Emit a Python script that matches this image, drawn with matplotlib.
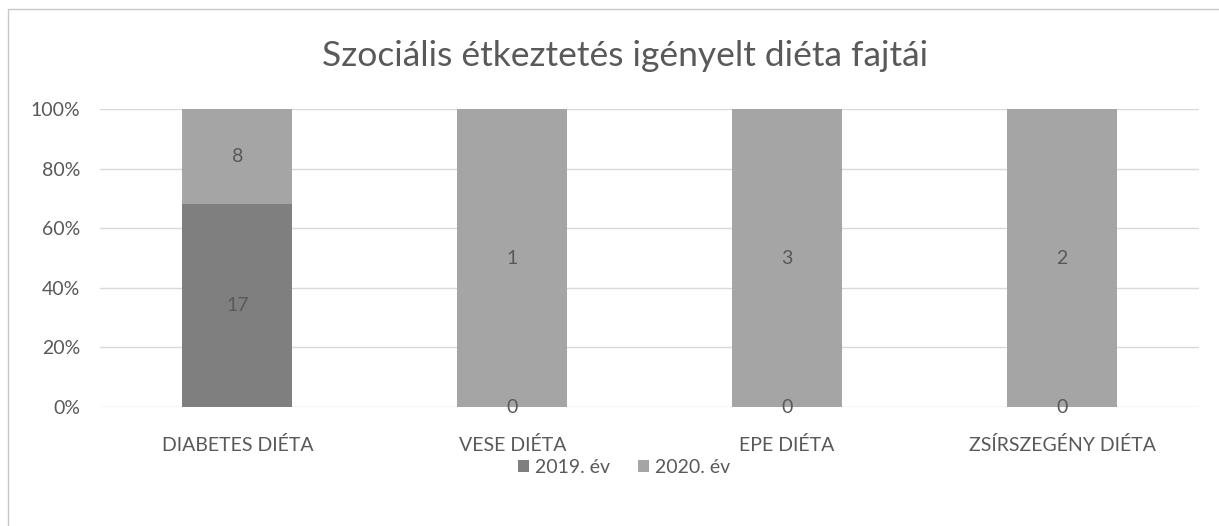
import numpy as np
import matplotlib
matplotlib.use("Agg")
import matplotlib.pyplot as plt
from matplotlib.patches import Rectangle

# Adatok
categories = ["DIABETES DIÉTA", "VESE DIÉTA", "EPE DIÉTA", "ZSÍRSZEGÉNY DIÉTA"]
series_names = ["2019. év", "2020. év"]
values_2019 = [17, 0, 0, 0]
values_2020 = [8, 1, 3, 2]
y_ticks = [0, 20, 40, 60, 80, 100]

plt.rcParams['font.family'] = ['Lato', 'DejaVu Sans']

fig = plt.figure(figsize=(12.19, 5.26), dpi=100)
ax = fig.add_axes([0.082, 0.2262, 0.902, 0.5666])

v19 = np.array(values_2019, dtype=float)
v20 = np.array(values_2020, dtype=float)
total = v19 + v20
p19 = v19 / total * 100
p20 = v20 / total * 100

x = np.arange(len(categories))
b1 = ax.bar(x, p19, width=0.4, color='#7f7f7f', label=series_names[0], zorder=2)
b2 = ax.bar(x, p20, width=0.4, bottom=p19, color='#a5a5a5', label=series_names[1], zorder=2)

# Címkék a szegmensek közepén
for i in range(len(x)):
    ax.text(x[i], p19[i] / 2, str(values_2019[i]), ha='center',
            va='center', fontsize=14, color='#595959', zorder=3)
    ax.text(x[i], p19[i] + p20[i] / 2, str(values_2020[i]), ha='center',
            va='center', fontsize=14, color='#595959', zorder=3)

ax.set_xlim(-0.5, len(categories) - 0.5)
ax.set_ylim(0, 100)
ax.set_yticks(y_ticks)
ax.set_yticklabels([f"{t}%" for t in y_ticks])
ax.set_xticks(x)
ax.set_xticklabels(categories)
ax.tick_params(axis='both', length=0, labelsize=14, colors='#595959')
ax.tick_params(axis='y', pad=14)
ax.tick_params(axis='x', pad=21)
ax.yaxis.grid(True, color='#d9d9d9', linewidth=1, zorder=0)
ax.set_axisbelow(True)
for s in ax.spines.values():
    s.set_visible(False)

fig.text(0.513, 0.893, "Szociális étkeztetés igényelt diéta fajtái",
         ha='center', va='center', fontsize=25.5, color='#595959')

fig.legend(handles=[b1, b2], labels=series_names, loc='center',
           bbox_to_anchor=(0.512, 0.112), ncol=2, frameon=False,
           fontsize=14, handlelength=0.6, handleheight=0.6,
           handletextpad=0.3, columnspacing=1.4, labelcolor='#595959')

# Keret
fig.patches.append(Rectangle((0.0066, -0.02), 1.1, 1.0029, transform=fig.transFigure,
                             fill=False, edgecolor='#c8c8c8', linewidth=1))

fig.savefig("out.png", dpi=100)
